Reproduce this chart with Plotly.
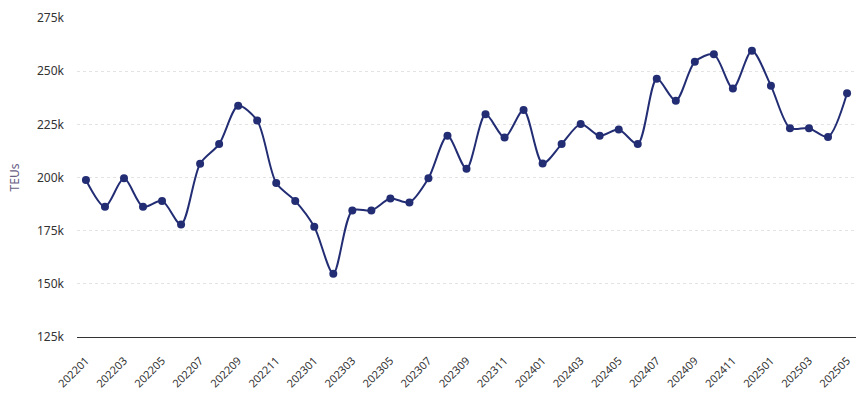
import plotly.graph_objects as go

months = ["202201","202202","202203","202204","202205","202206","202207","202208","202209","202210","202211","202212",
          "202301","202302","202303","202304","202305","202306","202307","202308","202309","202310","202311","202312",
          "202401","202402","202403","202404","202405","202406","202407","202408","202409","202410","202411","202412",
          "202501","202502","202503","202504","202505"]
teus = [198800, 186200, 199600, 186200, 189000, 177900, 206500, 215700, 233700, 226800, 197400, 189000,
        176800, 154800, 184500, 184500, 190100, 188300, 199600, 219600, 204100, 229700, 218800, 231700,
        206600, 215700, 225100, 219600, 222600, 215700, 246400, 236100, 254400, 257900, 241900, 259600,
        243100, 223200, 223200, 219100, 239600]
tick_labels = months[::2]
y_ticks = [125000, 150000, 175000, 200000, 225000, 250000, 275000]

fig = go.Figure(go.Scatter(
    x=months, y=teus, mode="lines+markers",
    line=dict(color="#222d74", width=2, shape="spline", smoothing=0.8),
    marker=dict(color="#222d74", size=8),
))

fig.update_layout(
    width=862, height=396,
    margin=dict(l=77, r=6, t=18, b=59),
    paper_bgcolor="white", plot_bgcolor="white",
    font=dict(family="Noto Sans, Open Sans, sans-serif", size=12, color="#333333"),
    showlegend=False,
)
fig.update_xaxes(
    type="category", range=[-0.47, 40.47], automargin=False,
    tickmode="array", tickvals=tick_labels, ticktext=tick_labels,
    tickangle=-45, showgrid=False,
    showline=True, linecolor="#333333", linewidth=1,
    ticks="", ticklabelstandoff=12,
    tickfont=dict(size=11, color="#333333"),
)
fig.update_yaxes(
    range=[125000, 275000], tickvals=y_ticks, tickformat="~s", automargin=False,
    showgrid=True, gridcolor="#e3e3e3", griddash="dot", gridwidth=1,
    zeroline=False, ticks="", ticklabelstandoff=12,
    tickfont=dict(size=12, color="#333333"),
    title=dict(text="TEUs", font=dict(size=12, color="#6a5f86"), standoff=14),
)

fig.write_html("out.html", config={"displayModeBar": False},
               post_script="document.body.style.margin='0';document.body.style.overflow='hidden';")
